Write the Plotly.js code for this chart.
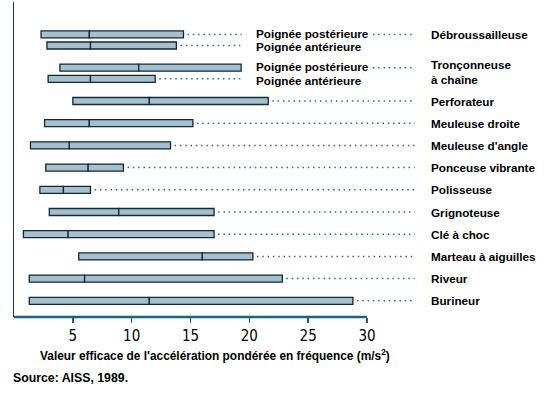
<!DOCTYPE html>
<html>
<head>
<meta charset="utf-8">
<script src="https://cdn.plot.ly/plotly-3.0.1.min.js"></script>
<style>html,body{margin:0;padding:0;background:#fff;}</style>
</head>
<body>
<div id="chart" style="width:559px;height:394px;"></div>
<script>
// ---- data ----
var tools = ["Débroussailleuse", "Tronçonneuse<br>à chaîne", "Perforateur", "Meuleuse droite",
  "Meuleuse d'angle", "Ponceuse vibrante", "Polisseuse", "Grignoteuse", "Clé à choc",
  "Marteau à aiguilles", "Riveur", "Burineur"];
var barTool   = [0, 0, 1, 1, 2, 3, 4, 5, 6, 7, 8, 9, 10, 11];
var barHandle = ["Poignée postérieure", "Poignée antérieure", "Poignée postérieure", "Poignée antérieure",
  "", "", "", "", "", "", "", "", "", ""];
var minVals = [2.3, 2.8, 3.9, 2.9, 5.0, 2.6, 1.4, 2.7, 2.2, 3.0, 0.8, 5.5, 1.3, 1.3];
var medVals = [6.4, 6.5, 10.6, 6.5, 11.5, 6.4, 4.7, 6.3, 4.2, 8.9, 4.6, 16.0, 6.0, 11.5];
var maxVals = [14.4, 13.8, 19.3, 12.0, 21.6, 15.2, 13.3, 9.3, 6.5, 17.0, 17.0, 20.3, 22.8, 28.8];
var tickVals = [5, 10, 15, 20, 25, 30];
var xTitle = "Valeur efficace de l'accélération pondérée en fréquence (m/s<sup>2</sup>)";
var source = "Source: AISS, 1989.";

// ---- layout rules ----
var FILL = "#a5bfcc", EDGE = "#10293a", DOT = "#2c6c8a";
var handleLabelX = 20.45, handleLeaderEnd = 19.35;
var toolLeaderStartAfterHandle = 30.5, toolLeaderEnd = 34.05, toolLabelPaperX = 1.0246;
var gap = 0.35;

// row positions: each bar one half-row, extra half-row between tools
var pos = [], cursor = 0;
for (var i = 0; i < barTool.length; i++) {
  if (i > 0 && barTool[i] !== barTool[i - 1]) cursor += 1;
  pos.push(cursor);
  cursor += 1;
}

var traces = [];
var lowLen = [], highLen = [];
for (var i = 0; i < pos.length; i++) {
  lowLen.push(medVals[i] - minVals[i]);
  highLen.push(maxVals[i] - medVals[i]);
}
var barCommon = {
  type: "bar", orientation: "h", y: pos, width: 0.63, hoverinfo: "skip", showlegend: false,
  marker: {color: FILL, line: {color: EDGE, width: 1.3}}
};
traces.push(Object.assign({}, barCommon, {x: lowLen, base: minVals}));
traces.push(Object.assign({}, barCommon, {x: highLen, base: medVals}));

var annotations = [];
var lab = {family: "Liberation Sans, Arial, sans-serif", size: 11.7, color: "#000"};
function leader(x0, x1, y) {
  if (x1 <= x0) return;
  traces.push({type: "scatter", mode: "lines", x: [x0, x1], y: [y, y], hoverinfo: "skip", showlegend: false,
    line: {color: DOT, width: 1.5, dash: "1.5px,3.8px"}});
}
var seenTool = {};
for (var i = 0; i < pos.length; i++) {
  var t = barTool[i];
  var firstOfTool = !seenTool[t];
  if (barHandle[i]) {
    leader(maxVals[i] + gap, handleLeaderEnd, pos[i]);
    annotations.push({xref: "x", yref: "y", x: handleLabelX, y: pos[i], xanchor: "left", yanchor: "middle",
      yshift: firstOfTool ? 1.3 : -1.3, borderpad: 0,
      text: "<b>" + barHandle[i] + "</b>", showarrow: false, font: lab});
  }
  if (firstOfTool) {
    seenTool[t] = true;
    var start = barHandle[i] ? toolLeaderStartAfterHandle : maxVals[i] + gap;
    leader(start, toolLeaderEnd, pos[i]);
    var multi = tools[t].indexOf("<br>") >= 0;
    annotations.push({xref: "paper", yref: "y", x: toolLabelPaperX, y: pos[i], xanchor: "left",
      yanchor: multi ? "top" : "middle", yshift: multi ? 10.5 : 0, align: "left", borderpad: 0,
      text: "<b>" + tools[t].replace("<br>", "</b><br><b>") + "</b>", showarrow: false, font: lab});
  }
}
annotations.push({xref: "paper", yref: "paper", x: 0.495, y: -0.121, xanchor: "center", yanchor: "middle",
  text: "<b>" + xTitle + "</b>", showarrow: false, font: {family: "Liberation Sans, Arial, sans-serif", size: 11.9, color: "#000"}});
annotations.push({xref: "paper", yref: "paper", x: -0.007, y: -0.194, xanchor: "left", yanchor: "middle",
  text: "<b>" + source + "</b>", showarrow: false, font: {family: "Liberation Sans, Arial, sans-serif", size: 12.3, color: "#000"}});

var layout = {
  width: 559, height: 394,
  margin: {l: 14, r: 139, t: 2, b: 77},
  paper_bgcolor: "#fff", plot_bgcolor: "#fff",
  barmode: "overlay",
  xaxis: {range: [0, 34.5], tickvals: tickVals, ticktext: tickVals.map(String), ticks: "outside", ticklen: 5,
    tickwidth: 1.5, tickcolor: "#1f5f7f", showgrid: false, zeroline: false, showline: false,
    tickfont: {family: "Liberation Sans Narrow, DejaVu Sans Condensed, Arial Narrow, sans-serif", size: 15, color: "#000"}},
  yaxis: {range: [25.46, -2.92], showticklabels: false, showgrid: false, zeroline: false, showline: true,
    linecolor: "#1b3b4d", linewidth: 1.5, ticks: ""},
  shapes: [{type: "line", xref: "x", yref: "paper", x0: 0, x1: 30, y0: 0, y1: 0, layer: "above",
    line: {color: "#1f6383", width: 2.5}}],
  annotations: annotations
};
Plotly.newPlot("chart", traces, layout, {displayModeBar: false, staticPlot: true});
</script>
</body>
</html>
